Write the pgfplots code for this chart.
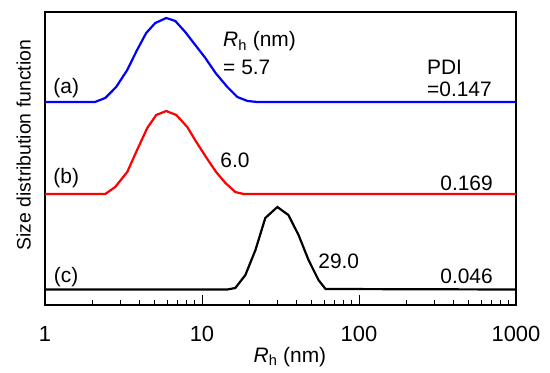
\documentclass[border=0pt]{standalone}
\usepackage{fontspec}
\setmainfont{Liberation Sans}
\usepackage{pgfplots}
\pgfplotsset{compat=1.18}
\begin{document}
\fontsize{21}{25}\selectfont
\begin{tikzpicture}[font=\fontsize{21}{25}\selectfont]
\begin{axis}[
  scale only axis,
  width=471bp, height=293bp,
  xmode=log,
  xmin=1, xmax=1000, ymin=1, ymax=294,
  xtick={1,10,100,1000},
  xticklabels={1,10,100,1000},
  ytick=\empty,
  xtick pos=bottom,
  tick align=inside,
  major tick length=10bp,
  minor tick length=5bp,
  every tick/.style={black, line width=0.8bp},
  axis line style={line width=1.3bp},
  /pgf/number format/assume math mode=true,
  tick label style={font=\fontsize{22}{26}\selectfont},
  xticklabel style={yshift=-14bp},
  xlabel={\textit{R}\textsubscript{h} (nm)},
  xlabel style={at={(axis description cs:0.52,-0.195)}, anchor=base, font=\fontsize{21}{25}\selectfont},
  ylabel={Size distribution function},
  ylabel style={at={(axis description cs:-0.045,0.546)}, anchor=center, font=\fontsize{19.5}{23}\selectfont},
  clip=false,
]
\addplot[blue, line width=2.2bp] coordinates {
(1,204) (2.08,204) (2.42,208) (2.84,219) (3.34,236) (3.86,256) (4.41,273) (5.04,283) (5.92,288) (6.76,285) (7.82,274) (9.06,261) (10.5,248) (12.2,233) (14.5,219) (16.8,209) (19.5,205) (22.5,204) (1000,204)};
\addplot[red, line width=2.2bp] coordinates {
(1,112) (2.42,112) (2.80,119) (3.34,134) (3.86,156) (4.48,178) (5.11,191) (5.92,195) (6.86,191) (8.06,179) (9.20,164) (10.6,149) (12.3,134) (14.1,123) (16.3,114) (18.4,112) (1000,112)};
\addplot[black, line width=2.2bp] coordinates {
(1,16.5) (14.5,16.5) (16.3,18) (18.9,31) (21.9,56) (25.3,88) (30.2,99) (35.5,91) (41.2,71) (47.7,46) (55.2,26) (61.2,17) (1000,16.5)};
\node at (rel axis cs:0.045,0.741) {(a)};
\node at (rel axis cs:0.045,0.433) {(b)};
\node at (rel axis cs:0.045,0.096) {(c)};
\node[anchor=base west, inner sep=0pt] at (rel axis cs:0.378,0.881) {\textit{R}\textsubscript{h} (nm)};
\node[anchor=base west, inner sep=0pt] at (rel axis cs:0.378,0.785) {= 5.7};
\node[anchor=base west, inner sep=0pt] at (rel axis cs:0.811,0.788) {PDI};
\node[anchor=base west, inner sep=0pt] at (rel axis cs:0.811,0.710) {=0.147};
\node[anchor=base west, inner sep=0pt] at (rel axis cs:0.372,0.468) {6.0};
\node[anchor=base east, inner sep=0pt] at (rel axis cs:0.951,0.392) {0.169};
\node[anchor=base west, inner sep=0pt] at (rel axis cs:0.580,0.126) {29.0};
\node[anchor=base east, inner sep=0pt] at (rel axis cs:0.951,0.075) {0.046};
\end{axis}
\pgfresetboundingbox
\path (-45bp,-68bp) rectangle (505bp,305bp);
\end{tikzpicture}
\end{document}
